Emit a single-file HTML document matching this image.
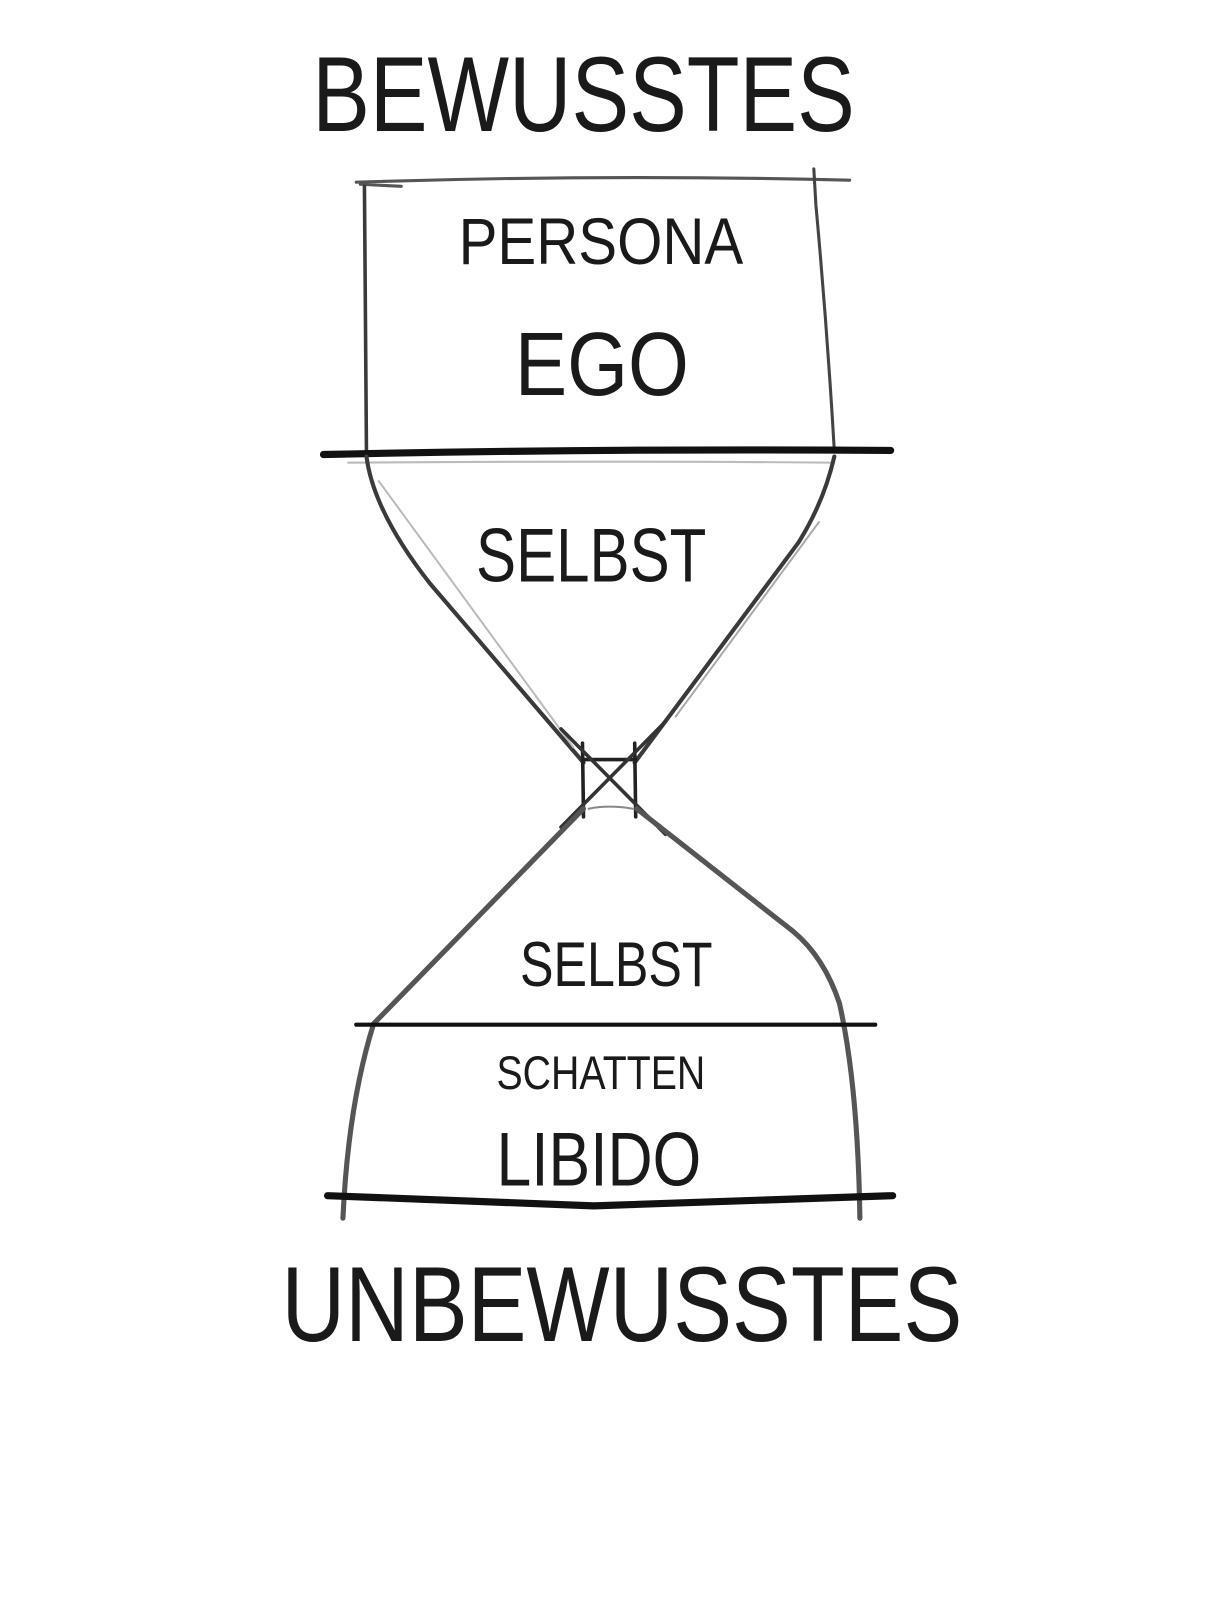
<!DOCTYPE html>
<html><head><meta charset="utf-8"><style>
html,body{margin:0;padding:0;background:#fff;}
svg{display:block}
text{font-family:"Liberation Sans",sans-serif;fill:#1a1a1a;}
</style></head><body>
<svg width="1210" height="1600" viewBox="0 0 1182 1563" xmlns="http://www.w3.org/2000/svg">
<rect width="1182" height="1563" fill="#fff"/>
<g fill="none" stroke-linecap="round" stroke-linejoin="round">
<!-- top rectangle -->
<path d="M348 178 Q590 170 830 176" stroke="#555" stroke-width="3"/>
<path d="M352 180 L392 182" stroke="#555" stroke-width="3"/>
<path d="M356 182 L358 445" stroke="#3a3a3a" stroke-width="3.5"/>
<path d="M795 165 L797 200 Q808 320 815 440" stroke="#444" stroke-width="3"/>
<path d="M316 444 Q590 438 870 440" stroke="#111" stroke-width="7"/>
<path d="M340 452 Q590 450 815 452" stroke="#bbb" stroke-width="2"/>
<!-- upper funnel -->
<path d="M358 446 Q365 500 420 570 L570 745" stroke="#3a3a3a" stroke-width="4"/>
<path d="M815 446 Q805 490 780 530 L620 745" stroke="#3a3a3a" stroke-width="4"/>
<path d="M800 510 L660 700" stroke="#aaa" stroke-width="2"/>
<path d="M370 470 L560 730" stroke="#bbb" stroke-width="2"/>
<!-- neck box -->
<path d="M569 726 L570 798 M620 726 L621 798 M569 742 L621 742" stroke="#222" stroke-width="3.5"/>
<path d="M575 790 Q595 786 618 790" stroke="#888" stroke-width="2"/>
<path d="M548 712 L650 815 M650 705 L548 808" stroke="#333" stroke-width="3.5"/>
<!-- lower funnel -->
<path d="M570 790 L365 1000 Q340 1080 335 1190" stroke="#555" stroke-width="5"/>
<path d="M622 790 L775 910 Q805 935 820 980 Q838 1060 840 1190" stroke="#555" stroke-width="5"/>
<path d="M348 1001 L855 1001" stroke="#111" stroke-width="4"/>
<path d="M320 1168 Q420 1172 580 1178 Q740 1172 872 1168" stroke="#111" stroke-width="7"/>
</g>
<text x="305" y="128" font-size="104" textLength="530" lengthAdjust="spacingAndGlyphs">BEWUSSTES</text>
<text x="448" y="258" font-size="64" textLength="278" lengthAdjust="spacingAndGlyphs">PERSONA</text>
<text x="503" y="386" font-size="88" textLength="170" lengthAdjust="spacingAndGlyphs">EGO</text>
<text x="465" y="568" font-size="74" textLength="225" lengthAdjust="spacingAndGlyphs">SELBST</text>
<text x="508" y="963" font-size="62" textLength="188" lengthAdjust="spacingAndGlyphs">SELBST</text>
<text x="485" y="1064" font-size="46" textLength="204" lengthAdjust="spacingAndGlyphs">SCHATTEN</text>
<text x="485" y="1158" font-size="74" textLength="200" lengthAdjust="spacingAndGlyphs">LIBIDO</text>
<text x="275" y="1310" font-size="104" textLength="665" lengthAdjust="spacingAndGlyphs">UNBEWUSSTES</text>
</svg>
</body></html>
